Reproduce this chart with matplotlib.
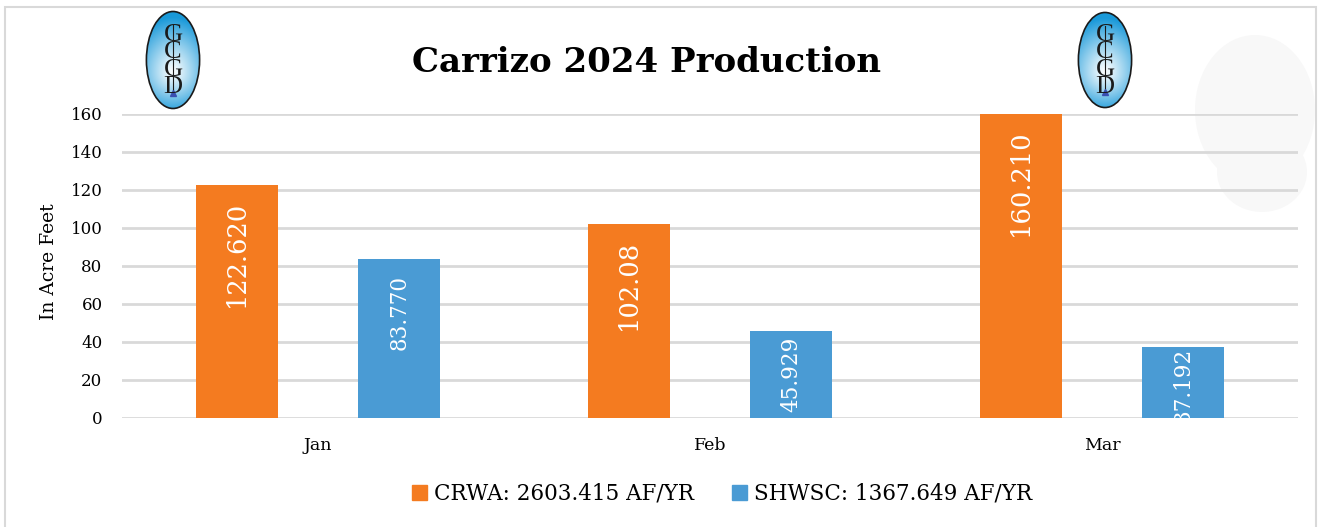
import numpy as np
import matplotlib.pyplot as plt
from matplotlib.patches import Ellipse, Rectangle, Patch

# Datos
months = ['Jan', 'Feb', 'Mar']
crwa = [122.620, 102.08, 160.210]
shwsc = [83.770, 45.929, 37.192]
crwa_labels = ['122.620', '102.08', '160.210']
shwsc_labels = ['83.770', '45.929', '37.192']
series_names = ['CRWA: 2603.415 AF/YR', 'SHWSC: 1367.649 AF/YR']
y_ticks = [0, 20, 40, 60, 80, 100, 120, 140, 160]
logo_letters = ['G', 'C', 'G', 'D']

orange = '#F47B20'
blue = '#4A9BD4'
grid_gray = '#D9D9D9'

plt.rcParams['font.family'] = ['DejaVu Serif']

W, H = 1322, 527
fig = plt.figure(figsize=(W / 100, H / 100), dpi=100)

# marco exterior y marca de agua
fig.patches.append(Rectangle((5 / W, -0.05), 1311 / W, 1.05 - 7 / H,
                             transform=fig.transFigure, fill=False,
                             ec=grid_gray, lw=1.5, zorder=-1))
fig.patches.append(Ellipse((1255 / W, 1 - 110 / H), 120 / W, 150 / H,
                           transform=fig.transFigure, fc='#F8F8F8',
                           ec='none', zorder=-1))
fig.patches.append(Ellipse((1262 / W, 1 - 172 / H), 90 / W, 80 / H,
                           transform=fig.transFigure, fc='#F8F8F8',
                           ec='none', zorder=-1))

ax = fig.add_axes([122 / W, 1 - 418 / H, 1176 / W, 304 / H])
ax.set_facecolor('none')

x = np.arange(len(months))
w = 0.21
off = 0.207
b1 = ax.bar(x - off, crwa, w, color=orange, zorder=2)
b2 = ax.bar(x + off, shwsc, w, color=blue, zorder=2)

ax.set_xlim(-0.5, len(months) - 0.5)
ax.set_ylim(0, 160)
ax.set_yticks(y_ticks)
ax.set_xticks(x)
ax.set_xticklabels(months)
ax.yaxis.grid(True, color=grid_gray, lw=2)
ax.set_axisbelow(True)
for s in ax.spines.values():
    s.set_visible(False)
ax.tick_params(axis='y', length=0, labelsize=12, pad=14)
ax.tick_params(axis='x', length=0, labelsize=12.5, pad=14)
ax.set_ylabel('In Acre Feet', fontsize=13.5)
ax.yaxis.set_label_coords(-0.054, 0.513)

# etiquetas dentro de las barras
fig.canvas.draw()
renderer = fig.canvas.get_renderer()
px_per_unit = 304 / 160
for bars, labels, fs in [(b1, crwa_labels, 18.5), (b2, shwsc_labels, 15.5)]:
    for bar, lab in zip(bars, labels):
        xc = bar.get_x() + bar.get_width() / 2
        top = bar.get_height()
        t = ax.annotate(lab, (xc, top), xytext=(0, 0), textcoords='offset points',
                        rotation=90, ha='center', va='top', color='white',
                        fontsize=fs, clip_on=True, zorder=3)
        text_px = t.get_window_extent(renderer).height
        bar_px = top * px_per_unit
        pad = max(0, min(16, (bar_px - text_px) / 2))
        t.xyann = (0, -pad * 72 / 100)

fig.text(646 / W, 1 - 62 / H, 'Carrizo 2024 Production', ha='center',
         va='center', fontsize=24.5, fontweight='bold')

handles = [Patch(color=orange), Patch(color=blue)]
fig.legend(handles, series_names, loc='center', bbox_to_anchor=(722 / W, 1 - 494 / H),
           ncol=2, frameon=False, fontsize=15.5, handlelength=0.7, handleheight=0.7,
           handletextpad=0.3, columnspacing=1.8)


def draw_logo(cx, cy, w_px, h_px):
    la = fig.add_axes([(cx - w_px / 2) / W, 1 - (cy + h_px / 2) / H, w_px / W, h_px / H])
    la.set_xlim(0, 1)
    la.set_ylim(0, 1)
    la.axis('off')
    yy, xx = np.mgrid[0:1:200j, 0:1:100j]
    d = np.sqrt(((yy - 0.38) / np.where(yy > 0.38, 0.55, 0.42)) ** 2 + ((xx - 0.5) / 0.75) ** 2)
    d = np.clip(d, 0, 1)
    c0 = np.array([1.0, 1.0, 1.0])
    c1 = np.array([0.10, 0.60, 0.85])
    rgb = c0 + (c1 - c0) * d[..., None] ** 1.1
    im = la.imshow(rgb, extent=(0, 1, 0, 1), origin='lower', aspect='auto')
    e = Ellipse((0.5, 0.5), 0.95, 0.97, transform=la.transAxes, fc='none', ec='#1a1a1a', lw=1.2)
    la.add_patch(e)
    im.set_clip_path(e)
    la.plot([0.5, 0.5], [0.2, 0.85], color='#1a1a1a', lw=0.8)
    la.text(0.5, 0.49, '\n'.join(logo_letters), ha='center', va='center',
            fontsize=19, linespacing=0.72, family='Liberation Serif', color='#1a1a1a')
    la.plot(0.5, 0.17, marker='^', color='#3a4fb0', ms=4)


draw_logo(173, 60, 56, 100)
draw_logo(1105, 60, 56, 98)

fig.savefig('out.png', dpi=100)
